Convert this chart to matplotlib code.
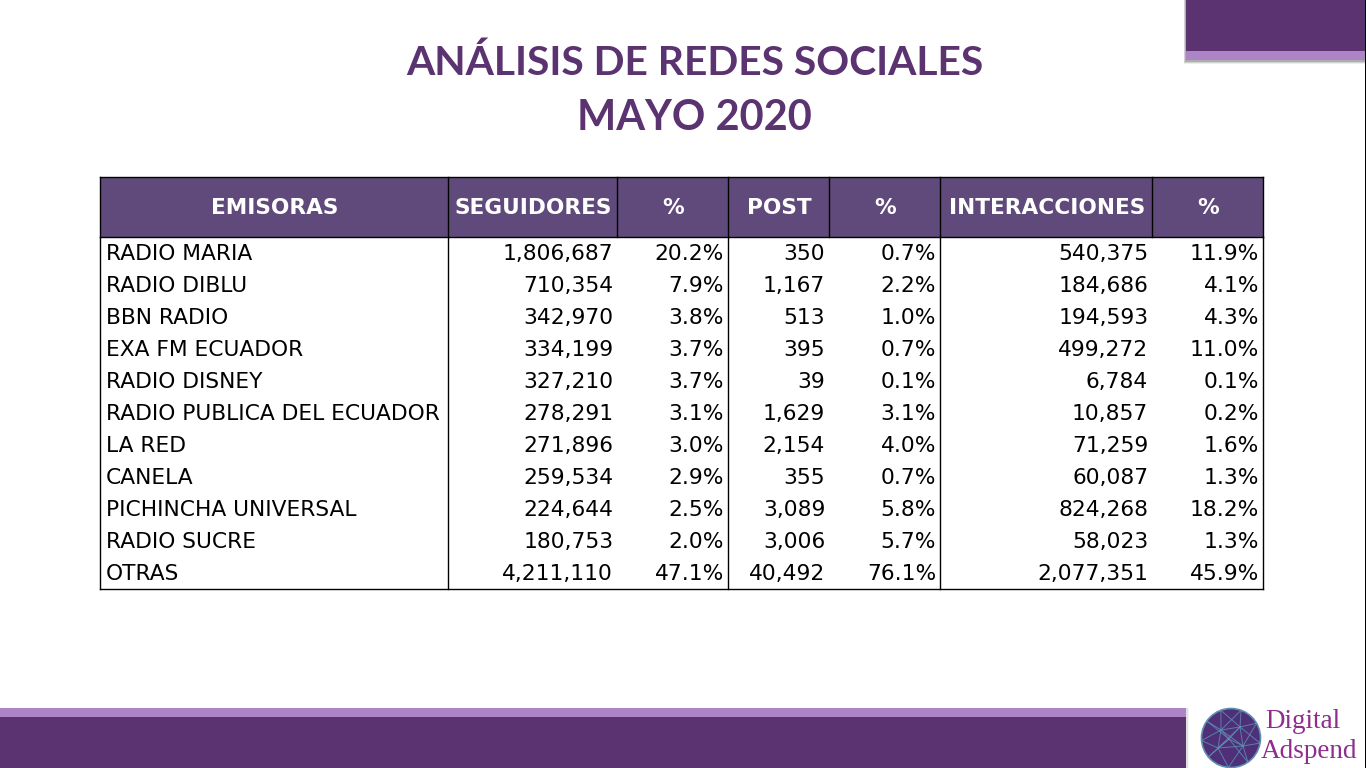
import numpy as np
import matplotlib
matplotlib.use("Agg")
import matplotlib.pyplot as plt
from matplotlib.patches import Rectangle, Circle

title_lines = ["ANÁLISIS DE REDES SOCIALES", "MAYO 2020"]
headers = ["EMISORAS", "SEGUIDORES", "%", "POST", "%", "INTERACCIONES", "%"]
emisoras = ["RADIO MARIA", "RADIO DIBLU", "BBN RADIO", "EXA FM ECUADOR", "RADIO DISNEY",
            "RADIO PUBLICA DEL ECUADOR", "LA RED", "CANELA", "PICHINCHA UNIVERSAL",
            "RADIO SUCRE", "OTRAS"]
seguidores = [1806687, 710354, 342970, 334199, 327210, 278291, 271896, 259534, 224644, 180753, 4211110]
seg_pct = [20.2, 7.9, 3.8, 3.7, 3.7, 3.1, 3.0, 2.9, 2.5, 2.0, 47.1]
posts = [350, 1167, 513, 395, 39, 1629, 2154, 355, 3089, 3006, 40492]
post_pct = [0.7, 2.2, 1.0, 0.7, 0.1, 3.1, 4.0, 0.7, 5.8, 5.7, 76.1]
interacciones = [540375, 184686, 194593, 499272, 6784, 10857, 71259, 60087, 824268, 58023, 2077351]
int_pct = [11.9, 4.1, 4.3, 11.0, 0.1, 0.2, 1.6, 1.3, 18.2, 1.3, 45.9]

DARK = "#5A3370"
LIGHT = "#AD84C6"
HEAD = "#604A7B"
col_edges = [100.0, 448.0, 617.0, 728.0, 829.0, 940.0, 1152.0, 1263.0]
top, head_bottom, row_h = 177.0, 237.0, 32

fig = plt.figure(figsize=(13.66, 7.68), dpi=100)
ax = fig.add_axes([0, 0, 1, 1])
ax.set_xlim(0, 1366)
ax.set_ylim(768, 0)
ax.axis("off")


def rect(x0, y0, x1, y1, color, z=1, alpha=1):
    ax.add_patch(Rectangle((x0, y0), x1 - x0, y1 - y0, fc=color, ec="none", alpha=alpha, zorder=z))


# top-right tab
for i, a in enumerate([0.10, 0.18, 0.28]):
    d = 4 - i
    rect(1186 - d * 0.6, 0, 1366, 60 + d, "#555555", 1, a)
rect(1186, 0, 1366, 51, DARK, 2)
rect(1186, 51, 1366, 60, LIGHT, 2)

# bottom band
for i, a in enumerate([0.08, 0.15]):
    rect(0, 708, 1186 + 3 - i, 768, "#777777", 1, a)
rect(0, 708, 1186, 717, LIGHT, 2)
rect(0, 717, 1186, 768, DARK, 2)
rect(1364.5, 0, 1366, 768, "#000000", 5)

# title
ax.text(695, 63.5, title_lines[0], ha="center", va="center", fontsize=29.3, fontweight="bold",
        family="Lato", color=DARK)
ax.text(694, 118.5, title_lines[1], ha="center", va="center", fontsize=29.9, fontweight="bold",
        family="Lato", color=DARK)

# table
n = len(emisoras)
bottom = head_bottom + n * row_h
rect(col_edges[0], top, col_edges[-1], head_bottom, HEAD, 2)
tf = dict(family="DejaVu Sans", color="black", va="center", zorder=4)
for i, h in enumerate(headers):
    ax.text((col_edges[i] + col_edges[i + 1]) / 2 + 0.7, (top + head_bottom) / 2 + 1, h, ha="center",
            fontsize=15.6, fontweight="bold", family="DejaVu Sans", color="white", va="center", zorder=4)
columns = [
    [f"{v:,}" for v in seguidores], [f"{v:.1f}%" for v in seg_pct],
    [f"{v:,}" for v in posts], [f"{v:.1f}%" for v in post_pct],
    [f"{v:,}" for v in interacciones], [f"{v:.1f}%" for v in int_pct],
]
for r in range(n):
    y = head_bottom + (r + 0.5) * row_h + 0.5
    ax.text(col_edges[0] + 5.5, y, emisoras[r], ha="left", fontsize=15.7, **tf)
    for c, vals in enumerate(columns):
        ax.text(col_edges[c + 2] - 3.8, y, vals[r], ha="right", fontsize=15.7, **tf)

lw = 1.0
for x in col_edges:
    ax.plot([x, x], [top, head_bottom], color="black", lw=lw, zorder=3, solid_capstyle="projecting")
for x in [col_edges[0], col_edges[1], col_edges[3], col_edges[5], col_edges[7]]:
    ax.plot([x, x], [head_bottom, bottom], color="black", lw=lw, zorder=3, solid_capstyle="projecting")
for y in [top, head_bottom, bottom]:
    ax.plot([col_edges[0], col_edges[-1]], [y, y], color="black", lw=lw, zorder=3, solid_capstyle="projecting")

# logo
cx, cy, R = 1231, 738, 29.5
ax.add_patch(Circle((cx, cy), R, fc="#4E2F78", ec="#5F8FB0", lw=1.2, zorder=3))
ang = np.deg2rad([10, 55, 95, 140, 175, 215, 250, 290, 330])
rim = np.c_[cx + R * np.cos(ang), cy + R * np.sin(ang)]
inner = np.array([[cx - 10, cy - 8], [cx + 9, cy - 11], [cx - 2, cy + 1], [cx + 12, cy + 8], [cx - 13, cy + 10]])
for p in rim:
    for q in inner[np.argsort(((inner - p) ** 2).sum(1))[:2]]:
        ax.plot([p[0], q[0]], [p[1], q[1]], color="#5E94B4", lw=0.7, alpha=0.8, zorder=4)
for i in range(len(inner)):
    for j in range(i + 1, len(inner)):
        ax.plot(inner[[i, j], 0], inner[[i, j], 1], color="#5E94B4", lw=0.7, alpha=0.8, zorder=4)
ax.text(1265, 722, "Digital", fontsize=19.5, family="Liberation Serif", color="#8E2E8C", ha="left", va="center", zorder=4)
ax.text(1261, 752, "Adspend", fontsize=19.5, family="Liberation Serif", color="#8E2E8C", ha="left", va="center", zorder=4)

fig.savefig("out.png", dpi=100)
